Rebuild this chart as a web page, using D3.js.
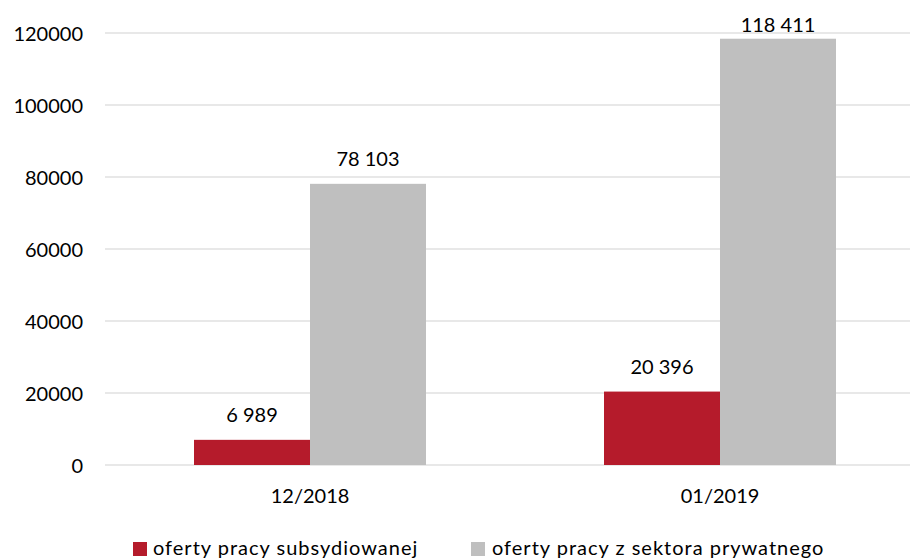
<!DOCTYPE html>
<html>
<head>
<meta charset="utf-8">
<script src="https://cdn.jsdelivr.net/npm/d3@7"></script>
<style>
  html, body { margin: 0; padding: 0; background: #fff; }
  svg { display: block; }
  text { font-family: Lato, "Open Sans", sans-serif; fill: #000; }
</style>
</head>
<body>
<svg id="chart" width="910" height="560"></svg>
<script>
// Job offers by month
const categories = ["12/2018", "01/2019"];
const seriesNames = ["oferty pracy subsydiowanej", "oferty pracy z sektora prywatnego"];
const subsidised = [6989, 20396];
const privateSector = [78103, 118411];
const yTicks = [0, 20000, 40000, 60000, 80000, 100000, 120000];
const colors = ["#B51B2B", "#BFBFBF"];

const rows = categories.map((c, i) => ({ cat: c, values: [subsidised[i], privateSector[i]] }));

const svg = d3.select("#chart");
const plot = { left: 105, right: 925, top: 33, bottom: 465 };

const x = d3.scaleBand().domain(categories).range([plot.left, plot.right]).paddingInner(0).paddingOuter(0);
const inner = d3.scaleBand().domain([0, 1]).range([0, 232]);
const innerOffset = (x.bandwidth() - 232) / 2;
const y = d3.scaleLinear().domain([0, 120000]).range([plot.bottom, plot.top]);

// gridlines
svg.append("g")
  .selectAll("line")
  .data(yTicks)
  .join("line")
  .attr("x1", plot.left).attr("x2", plot.right)
  .attr("y1", d => y(d)).attr("y2", d => y(d))
  .attr("stroke", "#e1e1e1").attr("stroke-width", 1.5);

// y axis labels
const yAxis = d3.axisLeft(y).tickValues(yTicks).tickSize(0).tickPadding(0).tickFormat(d3.format("d"));
svg.append("g")
  .attr("transform", "translate(83,0)")
  .call(yAxis)
  .call(g => g.select(".domain").remove())
  .call(g => g.selectAll("text").attr("font-size", 20).attr("font-family", "Lato, sans-serif").attr("fill", "#000").attr("dy", "0.35em"));

// x axis labels
const xAxis = d3.axisBottom(x).tickSize(0).tickPadding(0);
svg.append("g")
  .attr("transform", `translate(0,${plot.bottom})`)
  .call(xAxis)
  .call(g => g.select(".domain").remove())
  .call(g => g.selectAll("text").attr("font-size", 20).attr("font-family", "Lato, sans-serif").attr("fill", "#000").attr("dy", "38px"));

// bars
const groups = svg.append("g")
  .selectAll("g")
  .data(rows)
  .join("g")
  .attr("transform", d => `translate(${x(d.cat) + innerOffset},0)`);

groups.selectAll("rect")
  .data(d => d.values.map((v, i) => ({ v, i })))
  .join("rect")
  .attr("x", d => inner(d.i))
  .attr("width", inner.bandwidth())
  .attr("y", d => y(d.v))
  .attr("height", d => y(0) - y(d.v))
  .attr("fill", d => colors[d.i]);

// value labels (kept inside the plot area at the top)
const fmt = v => d3.format(",")(v).replace(/,/g, " ");
groups.selectAll("text.val")
  .data(d => d.values.map((v, i) => ({ v, i })))
  .join("text")
  .attr("class", "val")
  .attr("x", d => inner(d.i) + inner.bandwidth() / 2)
  .attr("y", d => Math.max(y(d.v) - 18, 32))
  .attr("text-anchor", "middle")
  .attr("font-size", 20)
  .text(d => fmt(d.v));

// legend
const legendItems = [{ x: 133, tx: 153 }, { x: 471, tx: 492 }];
const legend = svg.append("g");
seriesNames.forEach((name, i) => {
  legend.append("rect")
    .attr("x", legendItems[i].x).attr("y", 542)
    .attr("width", 14).attr("height", 14)
    .attr("fill", colors[i]);
  legend.append("text")
    .attr("x", legendItems[i].tx).attr("y", 555)
    .attr("font-size", 20)
    .attr("letter-spacing", "1px")
    .text(name);
});
</script>
</body>
</html>
